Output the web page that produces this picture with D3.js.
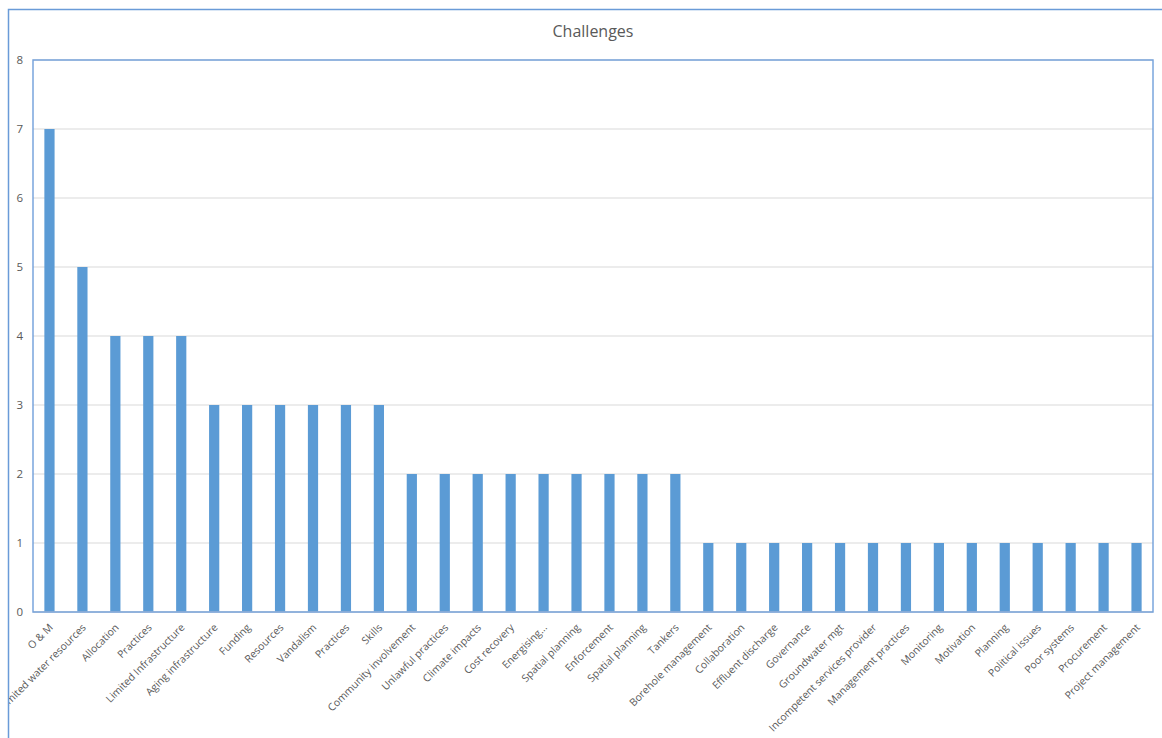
<!DOCTYPE html>
<html>
<head>
<meta charset="utf-8">
<script src="https://cdn.jsdelivr.net/npm/d3@7"></script>
<style>
  body { margin: 0; background: #fff; }
  svg text { font-family: "Open Sans", "Liberation Sans", sans-serif; fill: #595959; }
</style>
</head>
<body>
<svg id="chart" width="1162" height="738"></svg>
<script>
// chart data
const categories = [
  "O & M", "Limited water resources", "Allocation", "Practices", "Limited Infrastructure",
  "Aging infrastructure", "Funding", "Resources", "Vandalism", "Practices", "Skills",
  "Community involvement", "Unlawful practices", "Climate impacts", "Cost recovery",
  "Energising...", "Spatial planning", "Enforcement", "Spatial planning", "Tankers",
  "Borehole management", "Collaboration", "Effluent discharge", "Governance",
  "Groundwater mgt", "Incompetent services provider", "Management practices",
  "Monitoring", "Motivation", "Planning", "Political issues", "Poor systems",
  "Procurement", "Project management"
];
const values = [7, 5, 4, 4, 4, 3, 3, 3, 3, 3, 3, 2, 2, 2, 2, 2, 2, 2, 2, 2,
  1, 1, 1, 1, 1, 1, 1, 1, 1, 1, 1, 1, 1, 1];
const yTicks = [0, 1, 2, 3, 4, 5, 6, 7, 8];
const title = "Challenges";

const svg = d3.select("#chart");
const plot = { left: 33, right: 1153, top: 60, bottom: 612 };

// outer chart frame clip (labels get cut at the frame edge, as in the original)
svg.append("clipPath").attr("id", "frameClip")
  .append("rect").attr("x", 8).attr("y", 9).attr("width", 1160).attr("height", 740);

const root = svg.append("g").attr("clip-path", "url(#frameClip)");

// scales
const x = d3.scaleBand()
  .domain(d3.range(categories.length))
  .range([plot.left, plot.right])
  .paddingInner(0.69)
  .paddingOuter(0.345);

const y = d3.scaleLinear().domain([0, 8]).range([plot.bottom, plot.top]);

// gridlines
root.append("g")
  .selectAll("line")
  .data(yTicks.filter(d => d > 0))
  .join("line")
  .attr("x1", plot.left).attr("x2", plot.right)
  .attr("y1", d => y(d)).attr("y2", d => y(d))
  .attr("stroke", "#d9d9d9").attr("stroke-width", 1);

// bars
root.append("g")
  .selectAll("rect")
  .data(values)
  .join("rect")
  .attr("x", (d, i) => x(i))
  .attr("y", d => y(d))
  .attr("width", x.bandwidth())
  .attr("height", d => y(0) - y(d))
  .attr("fill", "#5b9bd5");

// y axis labels
const yAxis = d3.axisLeft(y).tickValues(yTicks).tickSize(0).tickPadding(10);
root.append("g")
  .attr("transform", `translate(${plot.left},0)`)
  .call(yAxis)
  .call(g => g.select(".domain").remove())
  .call(g => g.selectAll("text")
    .attr("font-size", 11.5).attr("fill", "#595959")
    .attr("font-family", "'Open Sans', sans-serif"));

// x axis line
root.append("line")
  .attr("x1", plot.left).attr("x2", plot.right)
  .attr("y1", plot.bottom).attr("y2", plot.bottom)
  .attr("stroke", "#d9d9d9").attr("stroke-width", 1.5);

// x axis labels, rotated -45
root.append("g")
  .selectAll("text")
  .data(categories)
  .join("text")
  .attr("transform", (d, i) => `translate(${x(i) + x.bandwidth() / 2 - 1},${plot.bottom + 11}) rotate(-45)`)
  .attr("text-anchor", "end")
  .attr("dy", "0.7em")
  .attr("font-size", 10.4)
  .text(d => d);

// plot area border (selected look)
root.append("rect")
  .attr("x", plot.left).attr("y", plot.top)
  .attr("width", plot.right - plot.left).attr("height", plot.bottom - plot.top)
  .attr("fill", "none").attr("stroke", "#6a9bd8").attr("stroke-width", 1.5)
  .attr("stroke-opacity", 0.9);

// title
root.append("text")
  .attr("x", (plot.left + plot.right) / 2)
  .attr("y", 37)
  .attr("text-anchor", "middle")
  .attr("font-size", 16)
  .text(title);

// outer frame
svg.append("path")
  .attr("d", "M8.5,740 L8.5,9.5 L1170,9.5")
  .attr("fill", "none").attr("stroke", "#6a9bd8").attr("stroke-width", 1.5);
</script>
</body>
</html>
